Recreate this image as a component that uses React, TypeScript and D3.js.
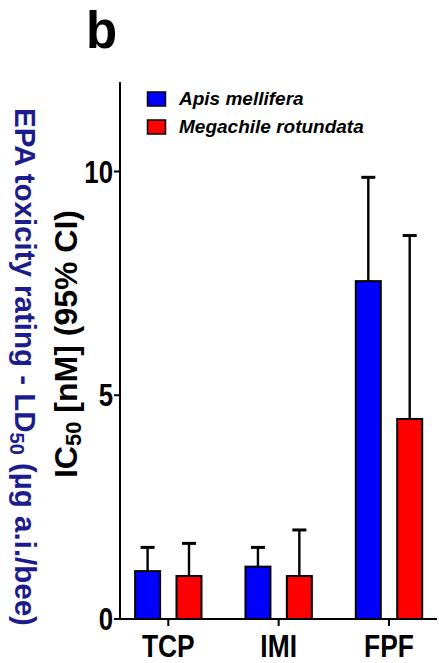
import React from "react";
import * as d3 from "d3";

const categories = ["TCP", "IMI", "FPF"];
const seriesNames = ["Apis mellifera", "Megachile rotundata"];
const seriesColors = ["#0000ff", "#ff0000"];
const apisMean = [1.07, 1.17, 7.55];
const apisUpper = [1.6, 1.6, 9.87];
const megaMean = [0.96, 0.96, 4.47];
const megaUpper = [1.69, 1.99, 8.57];
const yTicks = [0, 5, 10];

const W = 439;
const H = 663;

export default function App() {
  const y = d3.scaleLinear().domain([0, 12]).range([619, 82]);
  const x = d3.scalePoint<string>().domain(categories).range([168.3, 389]);
  const xs = d3.scalePoint<string>().domain(seriesNames).range([-20.7, 20.7]);
  const means = [apisMean, megaMean];
  const uppers = [apisUpper, megaUpper];
  const barW = 25;
  const sans = "'Liberation Sans', Arial, sans-serif";
  const navy = "#1c1c8c";

  return (
    <svg width={W} height={H} style={{ position: "absolute", left: 0, top: 0 }}>
      <rect width={W} height={H} fill="#fff" />
      <text x={86} y={48} fontFamily={sans} fontWeight="bold" fontSize={51} fill="#000">b</text>

      {/* outer navy label */}
      <text
        transform={`translate(15, 367) rotate(90)`}
        textAnchor="middle"
        fontFamily={sans}
        fontWeight="bold"
        fontSize={29.5}
        fill={navy}
      >
        EPA toxicity rating - LD<tspan fontSize={20} dy={5}>50</tspan>
        <tspan dy={-5}> (µg a.i./bee)</tspan>
      </text>

      {/* IC50 label */}
      <text
        transform={`translate(77, 344) rotate(-90)`}
        textAnchor="middle"
        fontFamily={sans}
        fontWeight="bold"
        fontSize={32}
        fill="#000"
      >
        IC<tspan fontSize={22} dy={4}>50</tspan>
        <tspan dy={-4}> [nM] (95% CI)</tspan>
      </text>

      {/* bars */}
      {seriesNames.map((s, si) =>
        categories.map((c, ci) => {
          const cx = (x(c) as number) + (xs(s) as number);
          const top = y(means[si][ci]);
          const up = y(uppers[si][ci]);
          return (
            <g key={s + c}>
              <line x1={cx} x2={cx} y1={top} y2={up} stroke="#000" strokeWidth={2.4} />
              <line x1={cx - 7} x2={cx + 7} y1={up} y2={up} stroke="#000" strokeWidth={3} />
              <rect
                x={cx - barW / 2}
                y={top}
                width={barW}
                height={y(0) - top}
                fill={seriesColors[si]}
                stroke="#000"
                strokeWidth={2}
              />
            </g>
          );
        })
      )}

      {/* y axis */}
      <line x1={120} x2={120} y1={y(12)} y2={y(0) + 1} stroke="#000" strokeWidth={2} />
      {yTicks.map((t) => (
        <g key={t}>
          <line x1={114} x2={120} y1={y(t)} y2={y(t)} stroke="#000" strokeWidth={2} />
          <text
            transform={`translate(113, ${y(t)}) scale(0.86, 1.04)`}
            dy="0.36em"
            textAnchor="end"
            fontFamily={sans}
            fontWeight="bold"
            fontSize={30}
            fill="#000"
          >
            {t}
          </text>
        </g>
      ))}

      {/* x axis */}
      <line x1={119} x2={437} y1={y(0)} y2={y(0)} stroke="#000" strokeWidth={2} />
      {categories.map((c) => (
        <g key={c}>
          <line x1={x(c)} x2={x(c)} y1={y(0)} y2={y(0) + 7} stroke="#000" strokeWidth={2} />
          <text
            transform={`translate(${x(c)}, 656.5) scale(0.88, 1.06)`}
            textAnchor="middle"
            fontFamily={sans}
            fontWeight="bold"
            fontSize={30}
            fill="#000"
          >
            {c}
          </text>
        </g>
      ))}

      {/* legend */}
      {seriesNames.map((s, si) => (
        <g key={s}>
          <rect
            x={147.5}
            y={92 + si * 28}
            width={18}
            height={14}
            fill={seriesColors[si]}
            stroke="#000"
            strokeWidth={1.5}
          />
          <text
            x={179}
            y={105 + si * 28}
            fontFamily={sans}
            fontWeight="bold"
            fontStyle="italic"
            fontSize={19}
            fill="#000"
          >
            {s}
          </text>
        </g>
      ))}
    </svg>
  );
}
